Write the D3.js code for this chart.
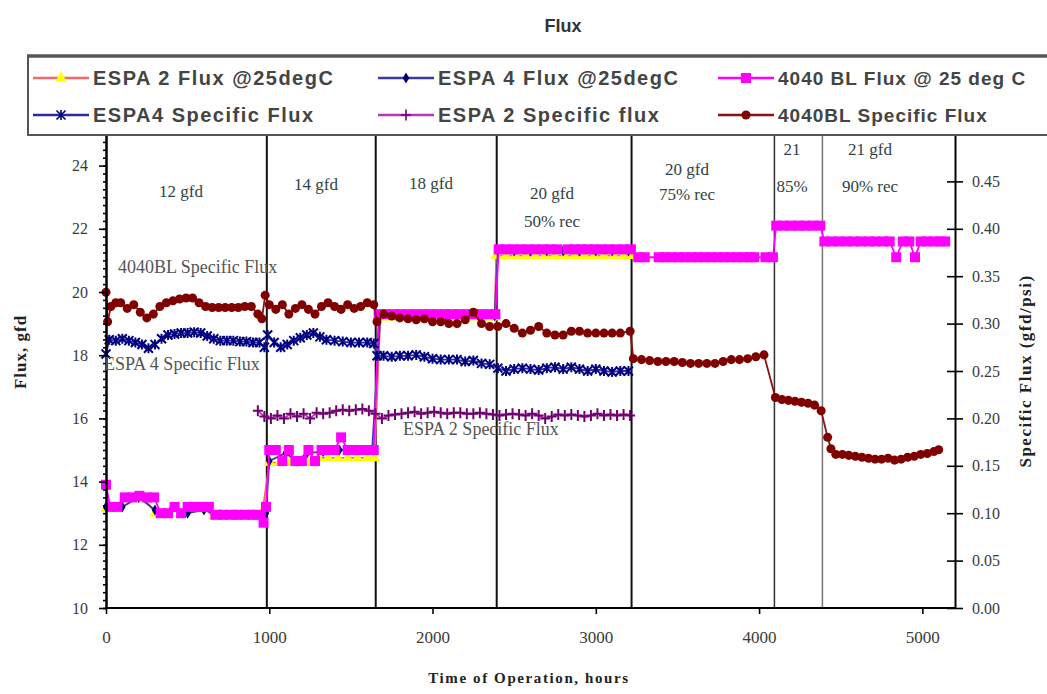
<!DOCTYPE html>
<meta charset="utf-8">
<style>
body { margin: 0; background: #fff; }
svg text { font-family: "Liberation Serif", "Times New Roman", serif; }
</style>
<body>
<script src="https://cdn.jsdelivr.net/npm/d3@7"></script>
<script>

// ---- data (hours, value) ----
var stageHours = [985, 1652, 2393, 3219, 4094, 4388];
var stageLabels = [["12 gfd"], ["14 gfd"], ["18 gfd"], ["20 gfd", "50% rec"],
                   ["20 gfd", "75% rec"], ["21", "85%"], ["21 gfd", "90% rec"]];
var curveNotes = ["4040BL Specific Flux", "ESPA 4 Specific Flux", "ESPA 2 Specific Flux"];

var xTicks = [0, 1000, 2000, 3000, 4000, 5000];
var fluxTicks = [10, 12, 14, 16, 18, 20, 22, 24];
var specTicks = [0, 0.05, 0.10, 0.15, 0.20, 0.25, 0.30, 0.35, 0.40, 0.45];

var espa2Flux = [[0,13.15],[60,13.15],[120,13.45],[180,13.45],[240,13.45],[300,13.0],[360,13.0],[420,13.15],
  [480,13.0],[540,13.15],[600,13.15],[660,12.9],[720,12.9],[780,12.9],[840,12.9],[900,12.9],[960,13.1],
  [1000,14.6],[1060,14.6],[1120,14.6],[1180,14.6],[1240,14.6],[1300,14.75],[1360,14.75],[1420,14.75],
  [1480,14.75],[1540,14.75],[1600,14.75],[1645,14.75],[1680,19.2],[1740,19.2],[1800,19.2],[1860,19.2],
  [1920,19.2],[1980,19.2],[2040,19.2],[2100,19.2],[2160,19.2],[2220,19.2],[2280,19.2],[2340,19.2],
  [2380,19.2],[2390,21.15],[2450,21.15],[2510,21.15],[2570,21.15],[2630,21.15],[2690,21.15],[2750,21.15],
  [2810,21.15],[2870,21.15],[2930,21.15],[2990,21.15],[3050,21.15],[3110,21.15],[3170,21.15],[3210,21.15]];

var espa4Flux = [[0,13.2],[100,13.2],[200,13.5],[300,13.1],[400,13.1],[500,13.0],[600,13.1],[700,12.95],
  [800,12.95],[900,12.95],[980,13.0],[1000,14.65],[1100,14.9],[1170,14.65],[1230,14.9],[1330,14.95],[1430,15.0],
  [1530,15.0],[1630,15.0],[1680,19.25],[1780,19.25],[1880,19.25],[1980,19.25],[2080,19.25],[2180,19.25],
  [2280,19.25],[2380,19.25],[2400,21.3],[2500,21.3],[2600,21.3],[2700,21.3],[2800,21.3],[2900,21.3],
  [3000,21.3],[3100,21.3],[3200,21.3]];

var bl4040Flux = [[0,13.9],[25,13.2],[70,13.2],[115,13.5],[160,13.5],[205,13.55],[250,13.5],[295,13.5],
  [335,13.0],[380,13.0],[420,13.2],[460,13.0],[500,13.2],[545,13.2],[590,13.2],[630,13.2],[670,12.95],
  [715,12.95],[760,12.95],[805,12.95],[850,12.95],[895,12.95],[940,12.95],[965,12.7],[980,13.2],
  [1000,15.0],[1040,15.0],[1080,14.65],[1120,15.0],[1160,14.65],[1200,14.65],[1240,15.0],[1280,14.65],
  [1320,15.0],[1360,15.0],[1400,15.0],[1440,15.4],[1480,15.0],[1520,15.0],[1560,15.0],[1600,15.0],
  [1640,15.0],[1670,19.3],[1715,19.3],[1760,19.3],[1805,19.3],[1850,19.3],[1895,19.3],[1940,19.3],
  [1985,19.3],[2030,19.3],[2075,19.3],[2120,19.3],[2165,19.3],[2210,19.3],[2255,19.3],[2300,19.3],
  [2345,19.3],[2385,19.3],[2405,21.35],[2450,21.35],[2495,21.35],[2540,21.35],[2585,21.35],[2630,21.35],
  [2675,21.35],[2720,21.35],[2765,21.35],[2830,21.35],[2870,21.35],[2910,21.35],[2950,21.35],[2990,21.35],
  [3035,21.35],[3080,21.35],[3125,21.35],[3170,21.35],[3215,21.35],[3260,21.1],[3300,21.1],[3385,21.1],
  [3425,21.1],[3465,21.1],[3505,21.1],[3545,21.1],[3585,21.1],[3625,21.1],[3665,21.1],[3705,21.1],
  [3745,21.1],[3785,21.1],[3825,21.1],[3865,21.1],[3905,21.1],[3945,21.1],[3970,21.1],[4040,21.1],
  [4085,21.1],[4105,22.1],[4150,22.1],[4195,22.1],[4240,22.1],[4285,22.1],[4330,22.1],[4375,22.1],
  [4400,21.6],[4445,21.6],[4490,21.6],[4535,21.6],[4580,21.6],[4625,21.6],[4670,21.6],[4715,21.6],
  [4760,21.6],[4800,21.6],[4840,21.1],[4880,21.6],[4920,21.6],[4955,21.1],[4990,21.6],[5030,21.6],
  [5070,21.6],[5110,21.6],[5140,21.6]];

var espa4Specific = [[0,0.268],[20,0.283],[60,0.282],[100,0.284],[140,0.282],[180,0.28],[220,0.278],
  [260,0.274],[300,0.278],[340,0.284],[380,0.288],[420,0.289],[460,0.29],[500,0.29],[540,0.291],
  [580,0.29],[620,0.287],[660,0.284],[700,0.282],[740,0.282],[780,0.282],[820,0.281],[860,0.281],
  [900,0.28],[940,0.28],[970,0.275],[990,0.288],[1030,0.28],[1070,0.275],[1110,0.278],[1150,0.282],
  [1190,0.285],[1230,0.288],[1270,0.29],[1310,0.286],[1350,0.283],[1400,0.282],[1450,0.281],[1500,0.28],
  [1550,0.28],[1600,0.28],[1640,0.279],[1660,0.266],[1700,0.266],[1750,0.265],[1800,0.266],[1850,0.266],
  [1900,0.267],[1950,0.265],[2000,0.263],[2050,0.262],[2100,0.262],[2150,0.262],[2200,0.26],[2250,0.261],
  [2300,0.258],[2350,0.257],[2400,0.253],[2450,0.25],[2500,0.252],[2550,0.253],[2600,0.252],[2650,0.251],
  [2700,0.253],[2750,0.254],[2800,0.252],[2850,0.254],[2900,0.252],[2950,0.25],[3000,0.252],[3050,0.25],
  [3100,0.249],[3150,0.25],[3200,0.25]];

var espa2Specific = [[930,0.208],[970,0.202],[1010,0.2],[1050,0.203],[1090,0.2],[1130,0.205],[1170,0.202],
  [1210,0.205],[1250,0.2],[1290,0.206],[1330,0.205],[1370,0.206],[1410,0.208],[1450,0.209],[1490,0.208],
  [1530,0.209],[1570,0.21],[1610,0.208],[1650,0.205],[1690,0.2],[1730,0.203],[1770,0.204],[1810,0.205],
  [1850,0.206],[1890,0.207],[1930,0.205],[1970,0.206],[2010,0.207],[2050,0.206],[2090,0.205],[2130,0.206],
  [2170,0.206],[2210,0.205],[2250,0.205],[2290,0.206],[2330,0.205],[2370,0.204],[2410,0.203],[2450,0.204],
  [2490,0.205],[2530,0.204],[2570,0.203],[2610,0.205],[2650,0.203],[2690,0.2],[2730,0.202],[2770,0.204],
  [2810,0.203],[2850,0.204],[2890,0.203],[2930,0.202],[2970,0.203],[3010,0.205],[3050,0.203],[3090,0.204],
  [3130,0.203],[3170,0.204],[3210,0.203]];

var bl4040Specific = [[0,0.333],[10,0.302],[30,0.318],[60,0.322],[90,0.322],[130,0.316],[170,0.32],
  [210,0.312],[250,0.306],[290,0.31],[330,0.318],[370,0.322],[410,0.324],[450,0.326],[490,0.327],
  [530,0.327],[570,0.322],[610,0.318],[650,0.317],[690,0.317],[730,0.317],[770,0.317],[810,0.317],
  [850,0.318],[890,0.318],[930,0.31],[955,0.305],[975,0.33],[1000,0.32],[1040,0.315],[1080,0.32],
  [1120,0.31],[1160,0.316],[1200,0.32],[1240,0.315],[1280,0.31],[1320,0.318],[1360,0.322],[1400,0.318],
  [1440,0.315],[1480,0.32],[1520,0.316],[1560,0.318],[1600,0.322],[1640,0.32],[1660,0.302],[1700,0.31],
  [1750,0.308],[1800,0.306],[1850,0.305],[1900,0.304],[1950,0.305],[2000,0.302],[2050,0.302],[2100,0.3],
  [2150,0.3],[2200,0.304],[2250,0.312],[2300,0.3],[2350,0.297],[2400,0.297],[2450,0.3],[2500,0.295],
  [2550,0.29],[2600,0.293],[2650,0.297],[2700,0.29],[2750,0.288],[2800,0.288],[2850,0.292],[2900,0.292],
  [2950,0.29],[3000,0.29],[3050,0.29],[3100,0.29],[3150,0.29],[3210,0.292],[3230,0.263],[3280,0.262],
  [3330,0.261],[3380,0.26],[3430,0.26],[3480,0.26],[3530,0.259],[3580,0.258],[3630,0.258],[3680,0.258],
  [3730,0.258],[3780,0.26],[3830,0.262],[3880,0.262],[3930,0.263],[3980,0.265],[4030,0.267],[4100,0.222],
  [4140,0.22],[4180,0.219],[4220,0.218],[4260,0.217],[4300,0.216],[4340,0.214],[4380,0.208],[4420,0.18],
  [4440,0.168],[4470,0.162],[4510,0.162],[4550,0.161],[4590,0.16],[4630,0.159],[4670,0.158],[4710,0.157],
  [4750,0.157],[4790,0.158],[4830,0.156],[4870,0.157],[4910,0.159],[4950,0.16],[4990,0.162],[5030,0.163],
  [5070,0.165],[5100,0.167]];

// ---- chart ----
var svg = d3.select("body").append("svg")
    .attr("width", 1047)
    .attr("height", 694);

var x = d3.scaleLinear().domain([0, 5200]).range([106, 955]),
    yL = d3.scaleLinear().domain([10, 25]).range([608, 134]),
    yR = d3.scaleLinear().domain([0, 0.5]).range([608, 134]);

// marker shapes
function shapePath(kind) {
  if (kind == "triangle") return d3.symbol(d3.symbolTriangle, 55)();
  if (kind == "diamond") return d3.symbol(d3.symbolDiamond, 36)();
  if (kind == "square") return d3.symbol(d3.symbolSquare, 100)();
  if (kind == "circle") return d3.symbol(d3.symbolCircle, 64)();
  if (kind == "star") return "M-4.5,-4.5L4.5,4.5M-4.5,4.5L4.5,-4.5M0,-5L0,5";
  return "M-5,0L5,0M0,-5.5L0,5.5";
}

var series = [
  {name: "ESPA 2 Flux @25degC", data: espa2Flux, y: yL, line: "#f06a6a", mark: "#ffff00", shape: "triangle"},
  {name: "ESPA 4 Flux @25degC", data: espa4Flux, y: yL, line: "#3a3aa0", mark: "#000070", shape: "diamond"},
  {name: "4040 BL Flux @ 25 deg C", data: bl4040Flux, y: yL, line: "#ff00ff", mark: "#ff00ff", shape: "square"},
  {name: "ESPA4 Specific Flux", data: espa4Specific, y: yR, line: "#2a2a9a", mark: "#000080", shape: "star"},
  {name: "ESPA 2 Specific flux", data: espa2Specific, y: yR, line: "#b03cb0", mark: "#700070", shape: "plus"},
  {name: "4040BL Specific Flux", data: bl4040Specific, y: yR, line: "#8b1010", mark: "#800000", shape: "circle"}
];

// stage dividers
svg.selectAll("line.stage")
    .data(stageHours)
  .enter().append("line")
    .attr("class", "stage")
    .attr("x1", function(d) { return x(d); })
    .attr("x2", function(d) { return x(d); })
    .attr("y1", 134).attr("y2", 608)
    .style("stroke", function(d, i) { return i < 4 ? "#111" : (i == 4 ? "#333" : "#777"); })
    .style("stroke-width", function(d, i) { return i < 4 ? 2 : 1.5; });

// series lines and markers
series.forEach(function(s) {
  var line = d3.line()
      .x(function(d) { return x(d[0]); })
      .y(function(d) { return s.y(d[1]); });
  var g = svg.append("g");
  g.append("path")
      .attr("d", line(s.data))
      .style("fill", "none")
      .style("stroke", s.line)
      .style("stroke-width", 1.8);
  var stroked = s.shape == "star" || s.shape == "plus";
  g.selectAll("path.mark")
      .data(s.data)
    .enter().append("path")
      .attr("class", "mark")
      .attr("transform", function(d) { return "translate(" + x(d[0]) + "," + s.y(d[1]) + ")"; })
      .attr("d", shapePath(s.shape))
      .style("fill", stroked ? "none" : s.mark)
      .style("stroke", stroked ? s.mark : "none")
      .style("stroke-width", 2);
});

// axes
var fmtInt = d3.format("d");
var leftMinor = svg.append("g").attr("transform", "translate(106,0)")
    .call(d3.axisLeft(yL).tickValues(d3.range(10, 25.01, 0.25)).tickSize(3).tickSizeOuter(0).tickFormat(""));
var left = svg.append("g").attr("transform", "translate(106,0)")
    .call(d3.axisLeft(yL).tickValues(fluxTicks).tickSize(7).tickSizeOuter(0).tickPadding(11).tickFormat(fmtInt));
var right = svg.append("g").attr("transform", "translate(955,0)")
    .call(d3.axisRight(yR).tickValues(specTicks).tickSize(8).tickSizeOuter(0).tickPadding(9).tickFormat(d3.format(".2f")));
right.selectAll(".tick line").attr("x1", -8);
var bottom = svg.append("g").attr("transform", "translate(0,608)")
    .call(d3.axisBottom(x).tickValues(xTicks).tickSize(6).tickSizeOuter(0).tickPadding(17).tickFormat(fmtInt));
bottom.select(".domain").attr("d", "M106,0H955");

[leftMinor, left, right, bottom].forEach(function(a) {
  a.select(".domain").style("stroke", "#000").style("stroke-width", 2);
  a.selectAll(".tick line").style("stroke", "#000").style("stroke-width", 1.6);
  a.selectAll(".tick text")
      .style("font-family", "Liberation Serif")
      .style("font-size", "16px")
      .style("fill", "#3a3a3a");
});
bottom.selectAll(".tick text").style("font-size", "17px");

// axis titles
svg.append("text")
    .attr("transform", "translate(26,352) rotate(-90)")
    .attr("text-anchor", "middle")
    .style("font-weight", "bold").style("font-size", "17px")
    .style("letter-spacing", "1px").style("fill", "#222")
    .text("Flux, gfd");
svg.append("text")
    .attr("transform", "translate(1031,371) rotate(-90)")
    .attr("text-anchor", "middle")
    .style("font-weight", "bold").style("font-size", "17px")
    .style("letter-spacing", "1.5px").style("fill", "#222")
    .text("Specific Flux (gfd/psi)");
svg.append("text")
    .attr("x", 529).attr("y", 683)
    .attr("text-anchor", "middle")
    .style("font-weight", "bold").style("font-size", "15px")
    .style("letter-spacing", "1.6px").style("fill", "#222")
    .text("Time of Operation, hours");

// stage labels
var stagePos = [[181, 197], [316, 190], [431, 189], [552, 199], [687, 175], [792, 155], [870, 155]];
var lineGap = [0, 0, 0, 28, 25, 37, 37];
stageLabels.forEach(function(lines, i) {
  var t = svg.append("text")
      .attr("text-anchor", "middle")
      .style("font-size", "17px").style("fill", "#2f4444");
  lines.forEach(function(l, j) {
    t.append("tspan")
        .attr("x", stagePos[i][0])
        .attr("y", stagePos[i][1] + j * lineGap[i])
        .text(l);
  });
});

// curve notes
var notePos = [[118, 273], [104, 370], [403, 435]];
curveNotes.forEach(function(n, i) {
  svg.append("text")
      .attr("x", notePos[i][0]).attr("y", notePos[i][1])
      .style("font-size", "18px").style("fill", "#555")
      .text(n);
});

// legend
var legend = svg.append("g");
legend.append("rect")
    .attr("x", 28).attr("y", 56).attr("width", 1040).attr("height", 79)
    .style("fill", "#fff").style("stroke", "#555").style("stroke-width", 2);
legend.append("line")
    .attr("x1", 27).attr("x2", 1047).attr("y1", 56).attr("y2", 56)
    .style("stroke", "#555").style("stroke-width", 3.5);
var colX = [33, 378, 718], rowY = [78, 115];
series.forEach(function(s, i) {
  var lx = colX[i % 3], ly = rowY[Math.floor(i / 3)];
  var g = legend.append("g").attr("transform", "translate(" + lx + "," + ly + ")");
  g.append("line").attr("x1", 0).attr("x2", 56).attr("y1", 0).attr("y2", 0)
      .style("stroke", s.line).style("stroke-width", 2.5);
  var stroked = s.shape == "star" || s.shape == "plus";
  g.append("path")
      .attr("transform", "translate(28,0)")
      .attr("d", shapePath(s.shape))
      .style("fill", stroked ? "none" : s.mark)
      .style("stroke", stroked ? s.mark : "none")
      .style("stroke-width", 1.6);
  g.append("text")
      .attr("x", 60).attr("y", 7)
      .style("font-family", "Liberation Sans, Arial, sans-serif")
      .style("font-weight", "bold").style("font-size", i % 3 == 2 ? "19px" : "20px")
      .style("letter-spacing", i % 3 == 2 ? "1px" : "1.5px").style("fill", "#444")
      .text(s.name);
});

// title
svg.append("text")
    .attr("x", 563).attr("y", 32)
    .attr("text-anchor", "middle")
    .style("font-family", "Liberation Sans, Arial, sans-serif")
    .style("font-weight", "bold").style("font-size", "18px")
    .style("fill", "#333")
    .text("Flux")

</script>
